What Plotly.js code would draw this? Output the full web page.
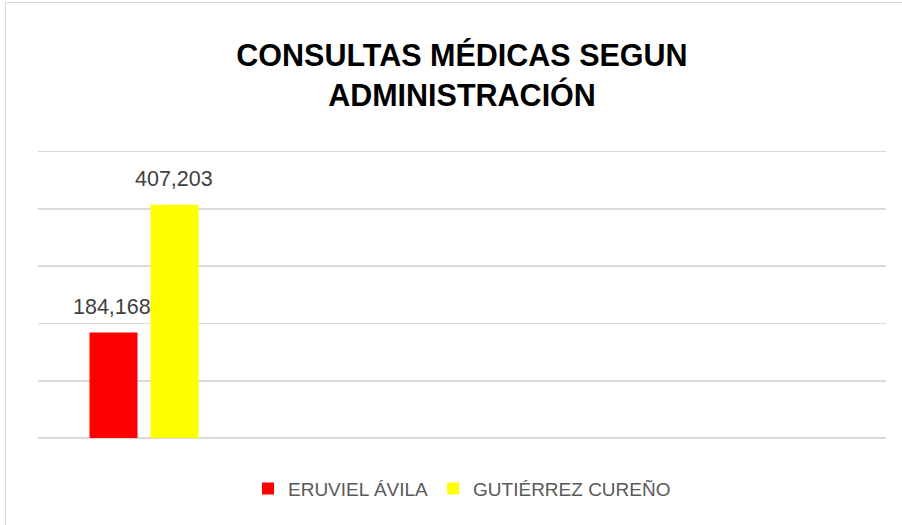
<!DOCTYPE html>
<html>
<head>
<meta charset="utf-8">
<script src="https://cdn.plot.ly/plotly-3.0.1.min.js"></script>
<style>
  html, body { margin: 0; padding: 0; background: #ffffff; }
  #wrap { position: relative; width: 902px; height: 525px; overflow: hidden; }
  #chart { width: 902px; height: 525px; }
  #frame { position: absolute; left: 5px; top: 2px; width: 910px; height: 540px;
           border: 1px solid #d9d9d9; pointer-events: none; box-sizing: border-box; }
</style>
</head>
<body>
<div id="wrap">
  <div id="chart"></div>
  <div id="frame"></div>
</div>
<script>
// ---- data ----
const categories = ["Consultas médicas"];
const seriesNames = ["ERUVIEL ÁVILA", "GUTIÉRREZ CUREÑO"];
const eruvielValues = [184168];
const gutierrezValues = [407203];
const seriesColors = ["#ff0000", "#ffff00"];
const titleText = "CONSULTAS MÉDICAS SEGUN<br>ADMINISTRACIÓN";

const fmt = v => v.toLocaleString("en-US");

const seriesValues = [eruvielValues, gutierrezValues];
const traces = seriesNames.map((name, i) => ({
  type: "bar",
  name: name,
  x: categories,
  y: seriesValues[i],
  marker: { color: seriesColors[i], line: { width: 0 } },
  hoverinfo: "skip"
}));

// data labels placed over each grouped bar
const nSeries = seriesNames.length;
const plotW = 902 - 38 - 16;
const nSlots = 4;
const bargap = 0.4245;
const slotPx = (plotW / nSlots) * (1 - bargap) / nSeries;
const annotations = [];
seriesValues.forEach((vals, i) => {
  vals.forEach((v, j) => {
    annotations.push({
      x: categories[j], y: v, xref: "x", yref: "y",
      text: fmt(v), showarrow: false,
      xanchor: "center", yanchor: "bottom",
      xshift: (i - (nSeries - 1) / 2) * slotPx - 1,
      yshift: 12,
      font: { family: "Liberation Sans, Arial, sans-serif", size: 21.5, color: "#404040" }
    });
  });
});

const layout = {
  width: 902, height: 525,
  margin: { l: 38, r: 16, t: 146, b: 86.5, pad: 0 },
  paper_bgcolor: "#ffffff", plot_bgcolor: "#ffffff",
  title: {
    text: titleText,
    x: 0.5, xref: "paper", xanchor: "center",
    y: 0.874, yref: "container", yanchor: "top",
    font: { family: "Liberation Sans, Arial, sans-serif", size: 30.5, color: "#000000", weight: "bold" }
  },
  barmode: "group",
  bargap: bargap,
  bargroupgap: 0.213,
  xaxis: {
    type: "category",
    range: [-0.5, nSlots - 0.5],
    showticklabels: false, showgrid: false, zeroline: false,
    showline: false, ticks: "", fixedrange: true
  },
  yaxis: {
    range: [0, 510000], dtick: 100000, tick0: 0,
    showticklabels: false, ticks: "",
    showgrid: true, gridcolor: "#d9d9d9", gridwidth: 1.5,
    zeroline: true, zerolinecolor: "#d9d9d9", zerolinewidth: 1.5,
    showline: false, fixedrange: true
  },
  showlegend: true,
  legend: {
    orientation: "h", x: 0.5, xanchor: "center",
    y: -0.108, yanchor: "top",
    font: { family: "Liberation Sans, Arial, sans-serif", size: 19, color: "#595959" },
    itemclick: false, itemdoubleclick: false
  },
  annotations: annotations
};

Plotly.newPlot("chart", traces, layout, { displayModeBar: false, staticPlot: true });
</script>
</body>
</html>
